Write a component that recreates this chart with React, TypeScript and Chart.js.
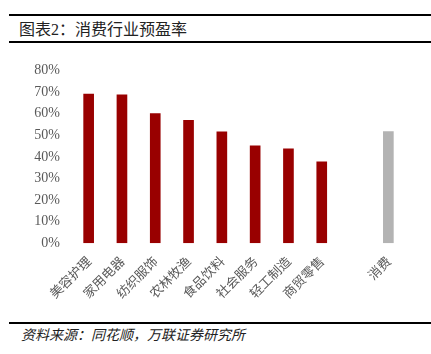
import React, { useEffect, useRef } from "react";
import { Chart, registerables } from "chart.js";

Chart.register(...registerables);

const categories = ["美容护理", "家用电器", "纺织服饰", "农林牧渔", "食品饮料", "社会服务", "轻工制造", "商贸零售", "", "消费"];
const peValues = [69.2, 68.9, 60.2, 57.0, 51.7, 45.2, 43.9, 37.9, null, 51.9];
const barColors = ["#990000", "#990000", "#990000", "#990000", "#990000", "#990000", "#990000", "#990000", "#990000", "#B3B3B3"];
const titleText = "图表2：消费行业预盈率";
const sourceText = "资料来源：同花顺，万联证券研究所";

export default function App() {
  const ref = useRef<HTMLCanvasElement | null>(null);
  useEffect(() => {
    if (!ref.current) return;
    const chart = new Chart(ref.current, {
      type: "bar",
      data: {
        labels: categories,
        datasets: [
          {
            data: peValues as any,
            backgroundColor: barColors,
            barPercentage: 0.32,
            categoryPercentage: 1,
          },
        ],
      },
      options: {
        responsive: false,
        animation: false,
        layout: { padding: { top: 16, right: 26, left: 0, bottom: 0 } },
        plugins: { legend: { display: false }, tooltip: { enabled: false } },
        scales: {
          x: {
            grid: { display: false, drawTicks: false },
            border: { display: false },
            ticks: {
              maxRotation: 45,
              minRotation: 45,
              autoSkip: false,
              padding: 10,
              color: "#595959",
              font: { family: "'Noto Sans CJK SC'", size: 13 },
            },
            afterFit: (s: any) => {
              s.height = 76.7;
            },
          },
          y: {
            min: 0,
            max: 80,
            grid: { display: false, drawTicks: false },
            border: { display: false },
            ticks: {
              stepSize: 10,
              padding: 12,
              color: "#595959",
              font: { family: "'Liberation Serif'", size: 14 },
              callback: (v: any) => v + "%",
            },
            afterFit: (s: any) => {
              s.width = 72;
            },
          },
        },
      },
    });
    return () => chart.destroy();
  }, []);

  return (
    <div style={{ position: "fixed", left: 0, top: 0, width: 431, height: 354, background: "#fff", overflow: "hidden" }}>
      <div style={{ position: "absolute", left: 9, right: 0, top: 14, height: 2, background: "#000" }} />
      <div
        style={{
          position: "absolute",
          left: 19,
          top: 20,
          fontFamily: "'Liberation Serif', 'Noto Sans CJK SC'",
          fontSize: 16,
          color: "#222",
          lineHeight: "20px",
          whiteSpace: "nowrap",
        }}
      >
        {titleText}
      </div>
      <div style={{ position: "absolute", left: 9, right: 0, top: 41, height: 2, background: "#000" }} />
      <canvas ref={ref} width={431} height={270} style={{ position: "absolute", left: 0, top: 50, width: 431, height: 270 }} />
      <div style={{ position: "absolute", left: 9, right: 0, top: 322, height: 2, background: "#000" }} />
      <div
        style={{
          position: "absolute",
          left: 21,
          top: 327,
          fontFamily: "'Liberation Serif', 'Noto Sans CJK SC'",
          fontStyle: "italic",
          fontSize: 14,
          color: "#222",
          lineHeight: "18px",
          whiteSpace: "nowrap",
        }}
      >
        {sourceText}
      </div>
    </div>
  );
}
